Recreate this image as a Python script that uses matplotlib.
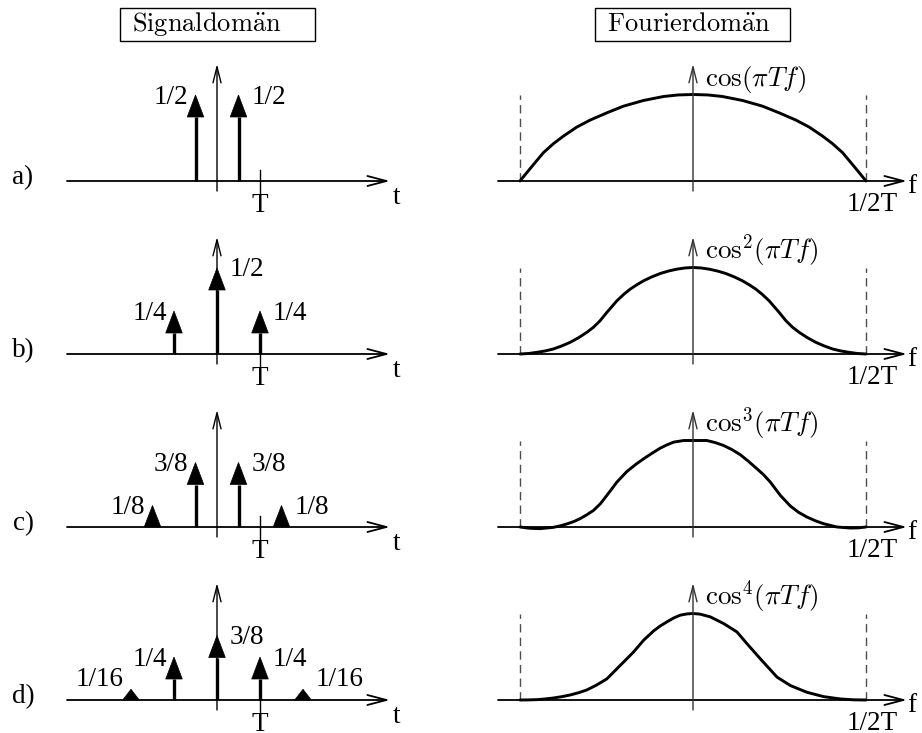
import matplotlib.pyplot as plt
from matplotlib.patches import Polygon, Rectangle
from fractions import Fraction

plt.rcParams['mathtext.fontset'] = 'cm'
plt.rcParams['font.family'] = ['Liberation Serif', 'DejaVu Serif']

# impulse trains in the signal domain (positions in units of T)
row_labels = ['a)', 'b)', 'c)', 'd)']
impulse_t = [[-0.5, 0.5],
             [-1, 0, 1],
             [-1.5, -0.5, 0.5, 1.5],
             [-2, -1, 0, 1, 2]]
impulse_w = [[Fraction(1, 2), Fraction(1, 2)],
             [Fraction(1, 4), Fraction(1, 2), Fraction(1, 4)],
             [Fraction(1, 8), Fraction(3, 8), Fraction(3, 8), Fraction(1, 8)],
             [Fraction(1, 16), Fraction(1, 4), Fraction(3, 8), Fraction(1, 4), Fraction(1, 16)]]

# spectra, f in units of 1/2T, amplitude relative to the peak
f_1 = [-1, -0.961, -0.913, -0.865, -0.807, -0.749, -0.672, -0.595, -0.498, -0.402,
       -0.286, -0.17, -0.085, 0, 0.085, 0.17, 0.286, 0.402, 0.498, 0.595, 0.672,
       0.749, 0.807, 0.865, 0.913, 0.961, 1]
v_1 = [0, 0.096, 0.212, 0.327, 0.431, 0.519, 0.623, 0.704, 0.788, 0.865,
       0.931, 0.977, 0.995, 1, 0.995, 0.977, 0.931, 0.865, 0.788, 0.704, 0.623,
       0.519, 0.431, 0.327, 0.212, 0.096, 0]

f_2 = [-1, -0.95, -0.903, -0.855, -0.807, -0.76, -0.71, -0.66, -0.614, -0.575,
       -0.537, -0.498, -0.44, -0.4, -0.363, -0.325, -0.286, -0.24, -0.189, -0.14,
       -0.093, -0.045, 0, 0.045, 0.093, 0.14, 0.189, 0.24, 0.286, 0.325, 0.363,
       0.4, 0.44, 0.498, 0.537, 0.575, 0.614, 0.66, 0.71, 0.76, 0.807, 0.855,
       0.903, 0.95, 1]
v_2 = [0, 0.006, 0.019, 0.035, 0.058, 0.092, 0.135, 0.19, 0.25, 0.31,
       0.385, 0.481, 0.615, 0.69, 0.75, 0.8, 0.846, 0.89, 0.931, 0.96,
       0.981, 0.995, 1, 0.995, 0.981, 0.96, 0.931, 0.89, 0.846, 0.8, 0.75,
       0.69, 0.615, 0.481, 0.385, 0.31, 0.25, 0.19, 0.135, 0.092, 0.058, 0.035,
       0.019, 0.006, 0]

f_3 = [-1, -0.942, -0.884, -0.807, -0.77, -0.73, -0.69, -0.653, -0.615, -0.575,
       -0.535, -0.498, -0.44, -0.382, -0.33, -0.286, -0.235, -0.189, -0.15, -0.112,
       -0.054, 0, 0.08, 0.13, 0.177, 0.225, 0.274, 0.32, 0.37, 0.41, 0.447,
       0.505, 0.563, 0.61, 0.659, 0.71, 0.755, 0.832, 0.909, 0.955, 1]
v_3 = [0, -0.015, -0.019, -0.004, 0.012, 0.035, 0.062, 0.096, 0.14, 0.192,
       0.27, 0.365, 0.519, 0.642, 0.725, 0.788, 0.855, 0.912, 0.95, 0.981,
       1.0, 1.0, 1.0, 0.975, 0.942, 0.895, 0.835, 0.76, 0.673, 0.6, 0.519,
       0.365, 0.242, 0.17, 0.115, 0.07, 0.038, 0, -0.012, -0.01, 0]

f_4 = [-1, -0.955, -0.903, -0.855, -0.807, -0.76, -0.71, -0.66, -0.614, -0.56,
       -0.498, -0.421, -0.344, -0.286, -0.228, -0.19, -0.151, -0.11, -0.073, -0.035,
       0, 0.04, 0.1, 0.177, 0.254, 0.312, 0.389, 0.486, 0.563, 0.659, 0.755,
       0.852, 0.93, 1]
v_4 = [0, 0.001, 0.004, 0.012, 0.023, 0.038, 0.058, 0.085, 0.116, 0.17,
       0.244, 0.399, 0.554, 0.69, 0.798, 0.855, 0.903, 0.95, 0.981, 0.995,
       1, 0.993, 0.961, 0.884, 0.787, 0.651, 0.477, 0.264, 0.167, 0.089, 0.039,
       0.012, 0.002, 0]

spec_f = [f_1, f_2, f_3, f_4]
spec_v = [v_1, v_2, v_3, v_4]
spec_txt = [r'$\mathrm{cos}(\pi T f)$', r'$\mathrm{cos}^2(\pi T f)$',
            r'$\mathrm{cos}^3(\pi T f)$', r'$\mathrm{cos}^4(\pi T f)$']

W, H = 922, 733
BASES = [181, 354, 527, 700]
T0, T_PX, A_PX = 217, 43, 172       # signal panels: origin, px per T, px per unit
F0, F_PX, S_PX = 693, 173, 86.5     # fourier panels: origin, px per 1/2T, px per unit
FS = 19.5

fig = plt.figure(figsize=(W / 100, H / 100), dpi=100)


def panel(x_lo, x_hi, base, x0, sx, sy):
    top, bot = base - 140, base + 33
    ax = fig.add_axes([x_lo / W, 1 - bot / H, (x_hi - x_lo) / W, (bot - top) / H])
    ax.set_xlim((x_lo - x0) / sx, (x_hi - x0) / sx)
    ax.set_ylim(-(bot - base) / sy, (base - top) / sy)
    ax.axis('off')
    return ax


def arrow(ax, start, end, hl, hw, lw, color='black'):
    ax.annotate('', xy=end, xytext=start, annotation_clip=False,
                arrowprops=dict(arrowstyle=f'->,head_length={hl},head_width={hw}',
                                lw=lw, color=color, shrinkA=0, shrinkB=0,
                                mutation_scale=10))


def label(ax, txt, xy, dx, dy, **kw):
    ax.annotate(txt, xy=xy, xytext=(dx, dy), textcoords='offset pixels',
                fontsize=FS, annotation_clip=False, **kw)


head_w = 8.3 / T_PX
head_h = 22 / A_PX

for i, base in enumerate(BASES):
    # signal domain
    ax = panel(0, 461, base, T0, T_PX, A_PX)
    arrow(ax, (-150 / T_PX, 0), (173 / T_PX, 0), 1.37, 0.36, 1.3)
    arrow(ax, (0, -10 / A_PX), (0, 117 / A_PX), 1.15, 0.29, 1.0)
    ax.plot([1, 1], [-12 / A_PX, 11 / A_PX], color='black', lw=1.0)
    label(ax, 'T', (1, 0), 0, -12, ha='center', va='top')
    label(ax, 't', (173 / T_PX, 0), 6, -23, ha='center', va='baseline')
    label(ax, row_labels[i], (-150 / T_PX, 0), -44, -3, ha='center', va='baseline')

    for t, w in zip(impulse_t[i], impulse_w[i]):
        v = float(w)
        hh = min(head_h, v)
        if v > hh:
            ax.plot([t, t], [0, v - hh], color='black', lw=2.4, solid_capstyle='butt')
        ax.add_patch(Polygon([(t - head_w, v - hh), (t + head_w, v - hh), (t, v)],
                             closed=True, facecolor='black', edgecolor='black',
                             lw=0.5, clip_on=False))
        ty = max(v, head_h)
        if t < 0:
            label(ax, str(w), (t, ty), -7, -2, ha='right', va='center')
        else:
            label(ax, str(w), (t, ty), 13, -2, ha='left', va='center')

    # fourier domain
    ax = panel(461, W, base, F0, F_PX, S_PX)
    arrow(ax, (-195 / F_PX, 0), (214 / F_PX, 0), 1.37, 0.36, 1.3)
    arrow(ax, (0, -10 / S_PX), (0, 117 / S_PX), 1.15, 0.29, 1.0, color='0.2')
    for fx in (-1, 1):
        ax.plot([fx, fx], [0, 1], color='0.3', lw=1.0, dashes=(6, 3.8))
    ax.plot(spec_f[i], spec_v[i], color='black', lw=2.1,
            solid_joinstyle='round', solid_capstyle='round')
    label(ax, spec_txt[i], (0, 0), 12, 95, ha='left', va='baseline')
    label(ax, '1/2T', (1, 0), 6, -11, ha='center', va='top')
    label(ax, 'f', (214 / F_PX, 0), 5, -12, ha='center', va='baseline')

# headings
for x0, txt in [(120, r'$\mathrm{Signaldom\ddot{a}n}$'),
                (595, r'$\mathrm{Fourierdom\ddot{a}n}$')]:
    fig.add_artist(Rectangle((x0 / W, 1 - 41 / H), 195 / W, 33 / H,
                             transform=fig.transFigure, fill=False, lw=1.0,
                             edgecolor='black'))
    fig.text((x0 + 12) / W, 1 - 31 / H, txt, fontsize=19, va='baseline')

fig.savefig('out.png', dpi=100)
